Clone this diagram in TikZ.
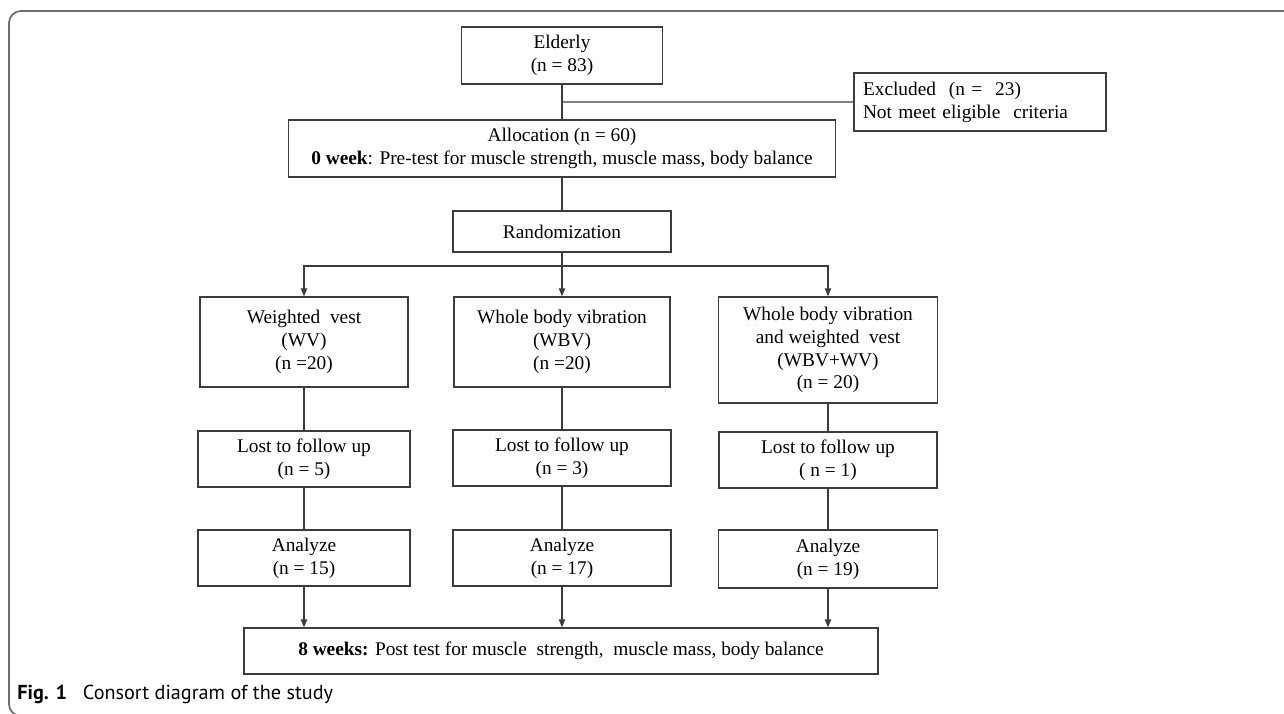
\documentclass[tikz,border=0pt]{standalone}
\usepackage{fontspec}
\setmainfont{Liberation Serif}
\newfontfamily\capfont{PT Sans}
\usepackage{tikz}
\usetikzlibrary{arrows.meta,positioning,calc}
\definecolor{boxline}{RGB}{60,60,60}
\definecolor{frameline}{RGB}{110,110,110}

\tikzset{
  box/.style={draw=boxline,line width=0.8pt,align=center,inner sep=0pt,
    font=\fontsize{11}{13}\selectfont},
  link/.style={draw=boxline,line width=0.6pt},
  arr/.style={link,-{Triangle[length=4.5pt,width=3.6pt]}},
}

\begin{document}
\begin{tikzpicture}[x=0.02cm,y=-0.02cm]
    \useasboundingbox (0,0) rectangle (1284,713);
    % frame of the figure
    \begin{scope}
        \clip (0,0) rectangle (1284,713);
        \draw[frameline,line width=1pt,rounded corners=6.8pt] (9,11) rectangle (1300,716);
    \end{scope}
    % enrolment
    \node[box,minimum width=4.02cm,minimum height=1.14cm] (eld) at (562,55.5) {Elderly\\(n = 83)};
    \node[box,align=left,inner xsep=0.18cm,text width=4.68cm,minimum height=1.16cm] (excl) at (980,102)
        {Excluded\ \ (n =\ \ 23)\\Not meet eligible\ \ criteria};
    \node[box,minimum width=10.94cm,minimum height=1.14cm] (alloc) at (562,148.5)
        {Allocation (n = 60)\\\textbf{0 week}: Pre-test for muscle strength, muscle mass, body balance};
    \node[box,minimum width=4.36cm,minimum height=0.82cm] (rand) at (562,231.5) {Randomization};
    % groups
    \node[box,minimum width=4.16cm,minimum height=1.8cm] (wv) at (304,342) {Weighted\ \ vest\\(WV)\\(n =20)};
    \node[box,minimum width=4.32cm,minimum height=1.8cm] (wbv) at (562,342) {Whole body vibration\\(WBV)\\(n =20)};
    \node[box,minimum width=4.38cm,minimum height=2.12cm] (wbvwv) at (828,350)
        {Whole body vibration\\and weighted\ \ vest\\(WBV+WV)\\(n = 20)};
    \node[box,minimum width=4.24cm,minimum height=1.12cm] (lost1) at (304,459) {Lost to follow up\\(n = 5)};
    \node[box,minimum width=4.36cm,minimum height=1.12cm] (lost2) at (562,458) {Lost to follow up\\(n = 3)};
    \node[box,minimum width=4.36cm,minimum height=1.12cm] (lost3) at (828,460) {Lost to follow up\\( n = 1)};
    \node[box,minimum width=4.24cm,minimum height=1.12cm] (ana1) at (304,558) {Analyze\\(n = 15)};
    \node[box,minimum width=4.36cm,minimum height=1.12cm] (ana2) at (562,558) {Analyze\\(n = 17)};
    \node[box,minimum width=4.38cm,minimum height=1.16cm] (ana3) at (828,559) {Analyze\\(n = 19)};
    \node[box,minimum width=12.68cm,minimum height=0.92cm] (post) at (561,651)
        {\textbf{8 weeks:} Post test for muscle\ \ strength,\ \ muscle mass, body balance};
    % connectors
    \coordinate (jn) at ($(eld.south)!.5!(alloc.north)$);
    \coordinate (br) at (562,266);
    \draw[link] (eld) -- (alloc);
    \draw[link] (jn) -- (excl.west);
    \draw[link] (alloc) -- (rand);
    \draw[link] (rand) -- (br);
    \draw[arr] (br) -| (wv);
    \draw[arr] (br) -- (wbv);
    \draw[arr] (br) -| (wbvwv);
    \draw[link] (wv) -- (lost1);
    \draw[link] (wbv) -- (lost2);
    \draw[link] (wbvwv) -- (lost3);
    \draw[link] (lost1) -- (ana1);
    \draw[link] (lost2) -- (ana2);
    \draw[link] (lost3) -- (ana3);
    \draw[arr] (ana1) -- (ana1 |- post.north);
    \draw[arr] (ana2) -- (ana2 |- post.north);
    \draw[arr] (ana3) -- (ana3 |- post.north);
    % caption
    \node[anchor=base west,inner sep=0pt,font=\capfont\fontsize{11.5}{13}\selectfont] (cap) at (17,699)
        {\textbf{Fig. 1}\hspace{9pt}Consort diagram of the study};
\end{tikzpicture}
\end{document}
